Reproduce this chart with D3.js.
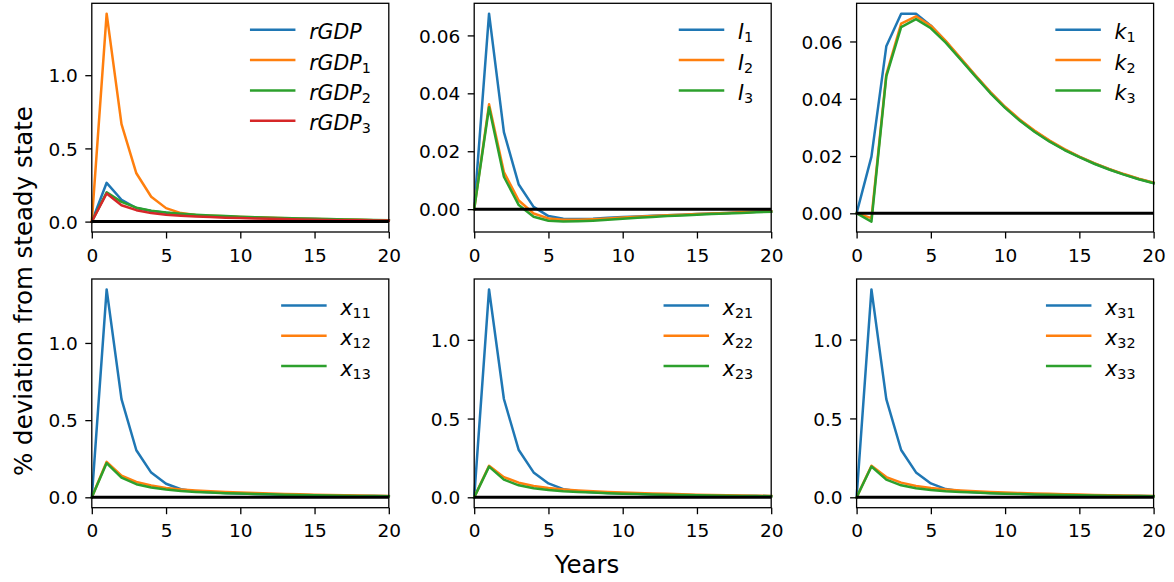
<!DOCTYPE html>
<html><head><meta charset="utf-8">
<script src="https://cdn.jsdelivr.net/npm/d3@7"></script>
<style>
body{margin:0;background:#fff}
svg text{font-family:"DejaVu Sans",sans-serif;fill:#000}
</style>
</head><body>
<svg id="chart" width="1174" height="582"></svg>
<script>
// ---------- data ----------
const years = [0,1,2,3,4,5,6,7,8,9,10,11,12,13,14,15,16,17,18,19,20];
const xTicks = [0,5,10,15,20];

const rGDP  = [0,0.265,0.149,0.093,0.072,0.060,0.050,0.043,0.037,0.033,0.030,0.027,0.024,0.021,0.019,0.017,0.015,0.013,0.011,0.009,0.008];
const rGDP1 = [0,1.420,0.666,0.330,0.170,0.092,0.058,0.045,0.040,0.036,0.032,0.029,0.026,0.023,0.020,0.018,0.016,0.014,0.012,0.010,0.009];
const rGDP2 = [0,0.200,0.135,0.095,0.075,0.063,0.054,0.047,0.042,0.038,0.034,0.030,0.027,0.024,0.021,0.019,0.017,0.015,0.013,0.011,0.010];
const rGDP3 = [0,0.192,0.112,0.078,0.058,0.047,0.040,0.035,0.031,0.027,0.024,0.021,0.019,0.017,0.015,0.013,0.011,0.010,0.009,0.008,0.007];

const I1 = [0,0.0675,0.0266,0.0085,0.0008,-0.0024,-0.0033,-0.0034,-0.0033,-0.0030,-0.0027,-0.0025,-0.0023,-0.0021,-0.0019,-0.0017,-0.0015,-0.0013,-0.0011,-0.0009,-0.0007];
const I2 = [0,0.0362,0.0128,0.0030,-0.0015,-0.0032,-0.0037,-0.0037,-0.0035,-0.0032,-0.0029,-0.0026,-0.0024,-0.0021,-0.0019,-0.0017,-0.0015,-0.0013,-0.0011,-0.0009,-0.0007];
const I3 = [0,0.0352,0.0112,0.0014,-0.0026,-0.0040,-0.0043,-0.0042,-0.0040,-0.0037,-0.0033,-0.0030,-0.0027,-0.0024,-0.0022,-0.0019,-0.0017,-0.0015,-0.0013,-0.0011,-0.0009];

const k1 = [0,0.0198,0.0583,0.0697,0.0697,0.0655,0.0600,0.0540,0.0480,0.0422,0.0370,0.0325,0.0286,0.0252,0.0222,0.0197,0.0174,0.0154,0.0136,0.0120,0.0106];
const k2 = [0,-0.0017,0.0484,0.0662,0.0688,0.0655,0.0602,0.0542,0.0482,0.0424,0.0372,0.0327,0.0288,0.0254,0.0224,0.0198,0.0175,0.0155,0.0137,0.0121,0.0107];
const k3 = [0,-0.0029,0.0478,0.0650,0.0678,0.0646,0.0596,0.0537,0.0478,0.0420,0.0368,0.0323,0.0284,0.0250,0.0221,0.0196,0.0173,0.0153,0.0135,0.0119,0.0105];

const x11 = [0,1.347,0.636,0.305,0.160,0.088,0.052,0.038,0.032,0.028,0.025,0.022,0.019,0.017,0.015,0.013,0.011,0.010,0.009,0.008,0.007];
const x12 = [0,0.230,0.140,0.100,0.076,0.061,0.051,0.044,0.039,0.035,0.031,0.028,0.025,0.022,0.020,0.017,0.015,0.013,0.012,0.010,0.009];
const x13 = [0,0.222,0.127,0.085,0.063,0.050,0.041,0.035,0.031,0.027,0.024,0.021,0.019,0.017,0.015,0.013,0.011,0.010,0.009,0.008,0.007];

const x21 = [0,1.320,0.624,0.300,0.158,0.088,0.052,0.038,0.032,0.028,0.025,0.022,0.019,0.017,0.015,0.013,0.011,0.010,0.009,0.008,0.007];
const x22 = [0,0.200,0.128,0.093,0.072,0.059,0.050,0.043,0.038,0.034,0.030,0.027,0.024,0.022,0.019,0.017,0.015,0.013,0.012,0.010,0.009];
const x23 = [0,0.195,0.112,0.076,0.058,0.047,0.039,0.034,0.030,0.026,0.023,0.021,0.018,0.016,0.014,0.013,0.011,0.010,0.009,0.008,0.007];

const x31 = [0,1.318,0.622,0.300,0.158,0.088,0.052,0.038,0.032,0.028,0.025,0.022,0.019,0.017,0.015,0.013,0.011,0.010,0.009,0.008,0.007];
const x32 = [0,0.200,0.128,0.093,0.072,0.059,0.050,0.043,0.038,0.034,0.030,0.027,0.024,0.022,0.019,0.017,0.015,0.013,0.012,0.010,0.009];
const x33 = [0,0.195,0.112,0.076,0.058,0.047,0.039,0.034,0.030,0.026,0.023,0.021,0.018,0.016,0.014,0.013,0.011,0.010,0.009,0.008,0.007];

// legend labels: [italic base, upright subscript]
const labelsGDP = [["rGDP",""],["rGDP","1"],["rGDP","2"],["rGDP","3"]];
const labelsI   = [["I","1"],["I","2"],["I","3"]];
const labelsK   = [["k","1"],["k","2"],["k","3"]];
const labelsX1  = [["x","11"],["x","12"],["x","13"]];
const labelsX2  = [["x","21"],["x","22"],["x","23"]];
const labelsX3  = [["x","31"],["x","32"],["x","33"]];

const yTicksLarge = [0,0.5,1.0];
const yTickLabelsLarge = ["0.0","0.5","1.0"];
const yTicksSmall = [0,0.02,0.04,0.06];
const yTickLabelsSmall = ["0.00","0.02","0.04","0.06"];

const colors = ["#1f77b4","#ff7f0e","#2ca02c","#d62728"];

const panels = [
  {series:[rGDP,rGDP1,rGDP2,rGDP3], labels:labelsGDP, yt:yTicksLarge, ytl:yTickLabelsLarge, row:0, col:0},
  {series:[I1,I2,I3], labels:labelsI, yt:yTicksSmall, ytl:yTickLabelsSmall, row:0, col:1},
  {series:[k1,k2,k3], labels:labelsK, yt:yTicksSmall, ytl:yTickLabelsSmall, row:0, col:2},
  {series:[x11,x12,x13], labels:labelsX1, yt:yTicksLarge, ytl:yTickLabelsLarge, row:1, col:0},
  {series:[x21,x22,x23], labels:labelsX2, yt:yTicksLarge, ytl:yTickLabelsLarge, row:1, col:1},
  {series:[x31,x32,x33], labels:labelsX3, yt:yTicksLarge, ytl:yTickLabelsLarge, row:1, col:2}
];

// ---------- layout ----------
const colLeft = [91.8, 474.2, 856.6];
const axW = 297;
const rowTop = [3.3, 279];
const axH = 228.7;
const FS = 18.5;
const LFS = 20.5;

const svg = d3.select("#chart");

panels.forEach(p => {
  const L = colLeft[p.col], T = rowTop[p.row], R = L + axW, B = T + axH;
  const x = d3.scaleLinear().domain([0,20]).range([L,R]);
  const all = p.series.flat().concat([0]);
  const mn = d3.min(all), mx = d3.max(all), rg = mx - mn;
  const y = d3.scaleLinear().domain([mn - 0.05*rg, mx + 0.05*rg]).range([B,T]);
  const g = svg.append("g");

  const line = d3.line().x((d,i)=>x(years[i])).y(d=>y(d));
  p.series.forEach((s,i)=>{
    g.append("path").attr("d", line(s)).attr("fill","none")
      .attr("stroke", colors[i]).attr("stroke-width",2.5)
      .attr("stroke-linejoin","round").attr("stroke-linecap","square");
  });
  // zero line
  g.append("line").attr("x1",L).attr("x2",R).attr("y1",y(0)).attr("y2",y(0))
    .attr("stroke","#000").attr("stroke-width",3);

  // x axis
  const xa = g.append("g").attr("transform",`translate(0,${B})`)
    .call(d3.axisBottom(x).tickValues(xTicks).tickFormat(d3.format("d")).tickSize(6.5).tickPadding(5));
  // y axis
  const ya = g.append("g").attr("transform",`translate(${L},0)`)
    .call(d3.axisLeft(y).tickValues(p.yt).tickFormat((d,i)=>p.ytl[i]).tickSize(6.5).tickPadding(7.5));
  [xa,ya].forEach(a=>{
    a.select(".domain").remove();
    a.selectAll(".tick line").attr("stroke","#000").attr("stroke-width",1.3);
    a.selectAll(".tick text").attr("font-size",FS).attr("font-family","DejaVu Sans").attr("fill","#000");
  });
  xa.selectAll(".tick text").attr("y", 29.7).attr("dy","0");
  ya.selectAll(".tick text").attr("dy","0.36em");

  // frame
  g.append("rect").attr("x",L).attr("y",T).attr("width",axW).attr("height",axH)
    .attr("fill","none").attr("stroke","#000").attr("stroke-width",1.3);

  // legend
  const lg = g.append("g");
  const texts = p.labels.map((lab,i)=>{
    const t = lg.append("text").attr("font-size",LFS).attr("y", T + 26.5 + i*30.3 + 9.5);
    t.append("tspan").attr("font-style","italic").text(lab[0]);
    if (lab[1]) t.append("tspan").attr("font-size",LFS*0.7).attr("dy",3).text(lab[1]);
    return t;
  });
  const maxW = d3.max(texts, t=>t.node().getComputedTextLength());
  const tx = R - 18 - maxW;
  texts.forEach((t,i)=>{
    t.attr("x",tx);
    const ly = T + 26.5 + i*30.3;
    lg.append("line").attr("x1",tx-15-43).attr("x2",tx-15).attr("y1",ly).attr("y2",ly)
      .attr("stroke",colors[i]).attr("stroke-width",2.5).attr("stroke-linecap","square");
  });
});

// figure labels
svg.append("text").attr("x",587).attr("y",572.5).attr("text-anchor","middle")
  .attr("font-size",24.5).text("Years");
svg.append("text").attr("transform","translate(32,291) rotate(-90)").attr("text-anchor","middle")
  .attr("font-size",24.5).text("% deviation from steady state");
</script>
</body></html>
